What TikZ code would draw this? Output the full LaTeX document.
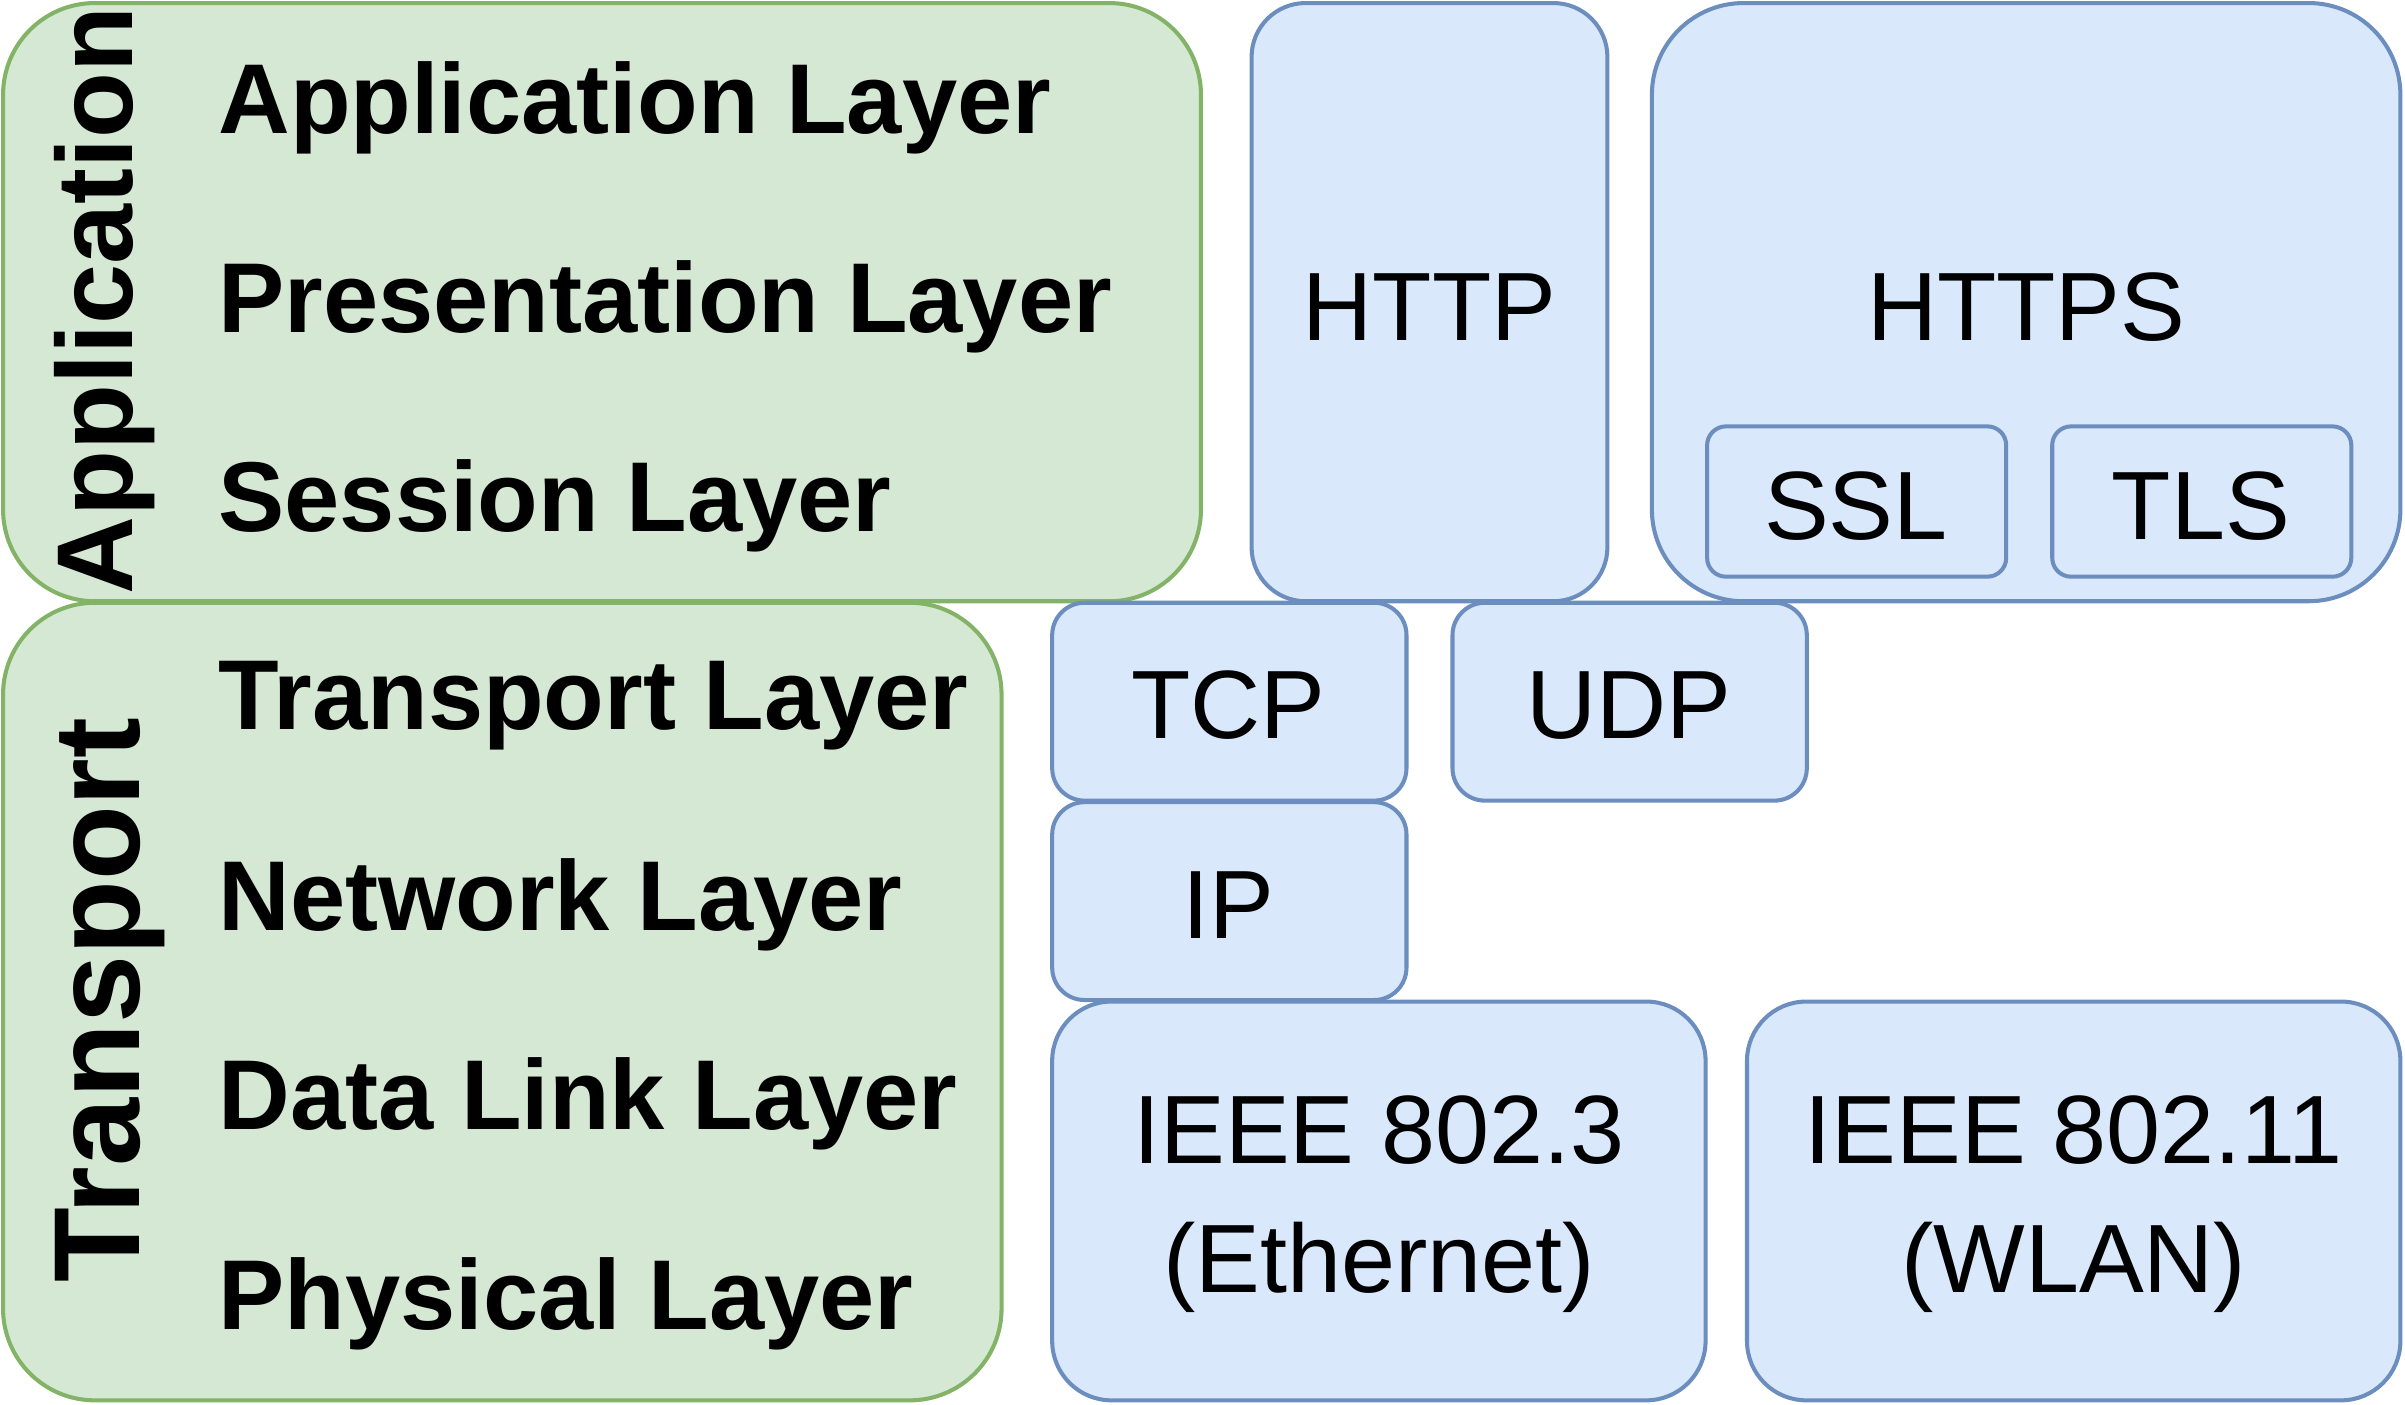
\documentclass[tikz,border=0pt]{standalone}
\usepackage{fontspec}
\setmainfont{Liberation Sans}
\definecolor{gfill}{HTML}{D5E8D4}\definecolor{gdraw}{HTML}{82B366}
\definecolor{bfill}{HTML}{DAE8FC}\definecolor{bdraw}{HTML}{6C8EBF}
\begin{document}
\begin{tikzpicture}[x=0.01cm,y=-0.01cm,
 gbox/.style={fill=gfill,draw=gdraw,line width=0.75pt,rounded corners=17pt},
 bbox/.style={fill=bfill,draw=bdraw,line width=0.75pt},
 lay/.style={anchor=west,font=\fontsize{18.4}{22}\selectfont\bfseries},
 btxt/.style={font=\fontsize{18}{21}\selectfont,align=center}]
\useasboundingbox (0,0) rectangle (1568,916);
\draw[gbox] (2,2) rectangle (783,392);
\draw[gbox] (2,393) rectangle (653,913);
\draw[bbox,rounded corners=10pt] (816,2) rectangle (1048,392);
\draw[bbox,rounded corners=17pt] (1077,2) rectangle (1565,392);
\draw[bbox,rounded corners=3.5pt] (1113,278) rectangle (1308,376);
\draw[bbox,rounded corners=3.5pt] (1338,278) rectangle (1533,376);
\draw[bbox,rounded corners=6pt] (686,393) rectangle (917,522);
\draw[bbox,rounded corners=6pt] (947,393) rectangle (1178,522);
\draw[bbox,rounded corners=6pt] (686,523) rectangle (917,652);
\draw[bbox,rounded corners=11pt] (686,653) rectangle (1112,913);
\draw[bbox,rounded corners=11pt] (1139,653) rectangle (1565,913);
\node[rotate=90,font=\fontsize{20}{24}\selectfont\bfseries] (app) at (68,196) {Application};
\node[rotate=90,font=\fontsize{22.7}{26}\selectfont\bfseries] (tr) at (72,652) {Transport};
\node[lay] (l1) at (130,70) {Application Layer};
\node[lay] (l2) at (130,200) {Presentation Layer};
\node[lay] (l3) at (130,330) {Session Layer};
\node[lay] (l4) at (130,460) {Transport Layer};
\node[lay] (l5) at (130,590) {Network Layer};
\node[lay] (l6) at (130,720) {Data Link Layer};
\node[lay] (l7) at (130,850) {Physical Layer};
\node[btxt] (http) at (932,200) {HTTP};
\node[btxt] (https) at (1321,200) {HTTPS};
\node[btxt] (ssl) at (1210,330) {SSL};
\node[btxt] (tls) at (1435,330) {TLS};
\node[btxt] (tcp) at (801,460) {TCP};
\node[btxt] (udp) at (1062,460) {UDP};
\node[btxt] (ip) at (801,590) {IP};
\node[btxt,font=\fontsize{18}{24}\selectfont] (eth) at (899,785) {IEEE 802.3\\(Ethernet)};
\node[btxt,font=\fontsize{18}{24}\selectfont] (wlan) at (1352,785) {IEEE 802.11\\(WLAN)};
\end{tikzpicture}
\end{document}
